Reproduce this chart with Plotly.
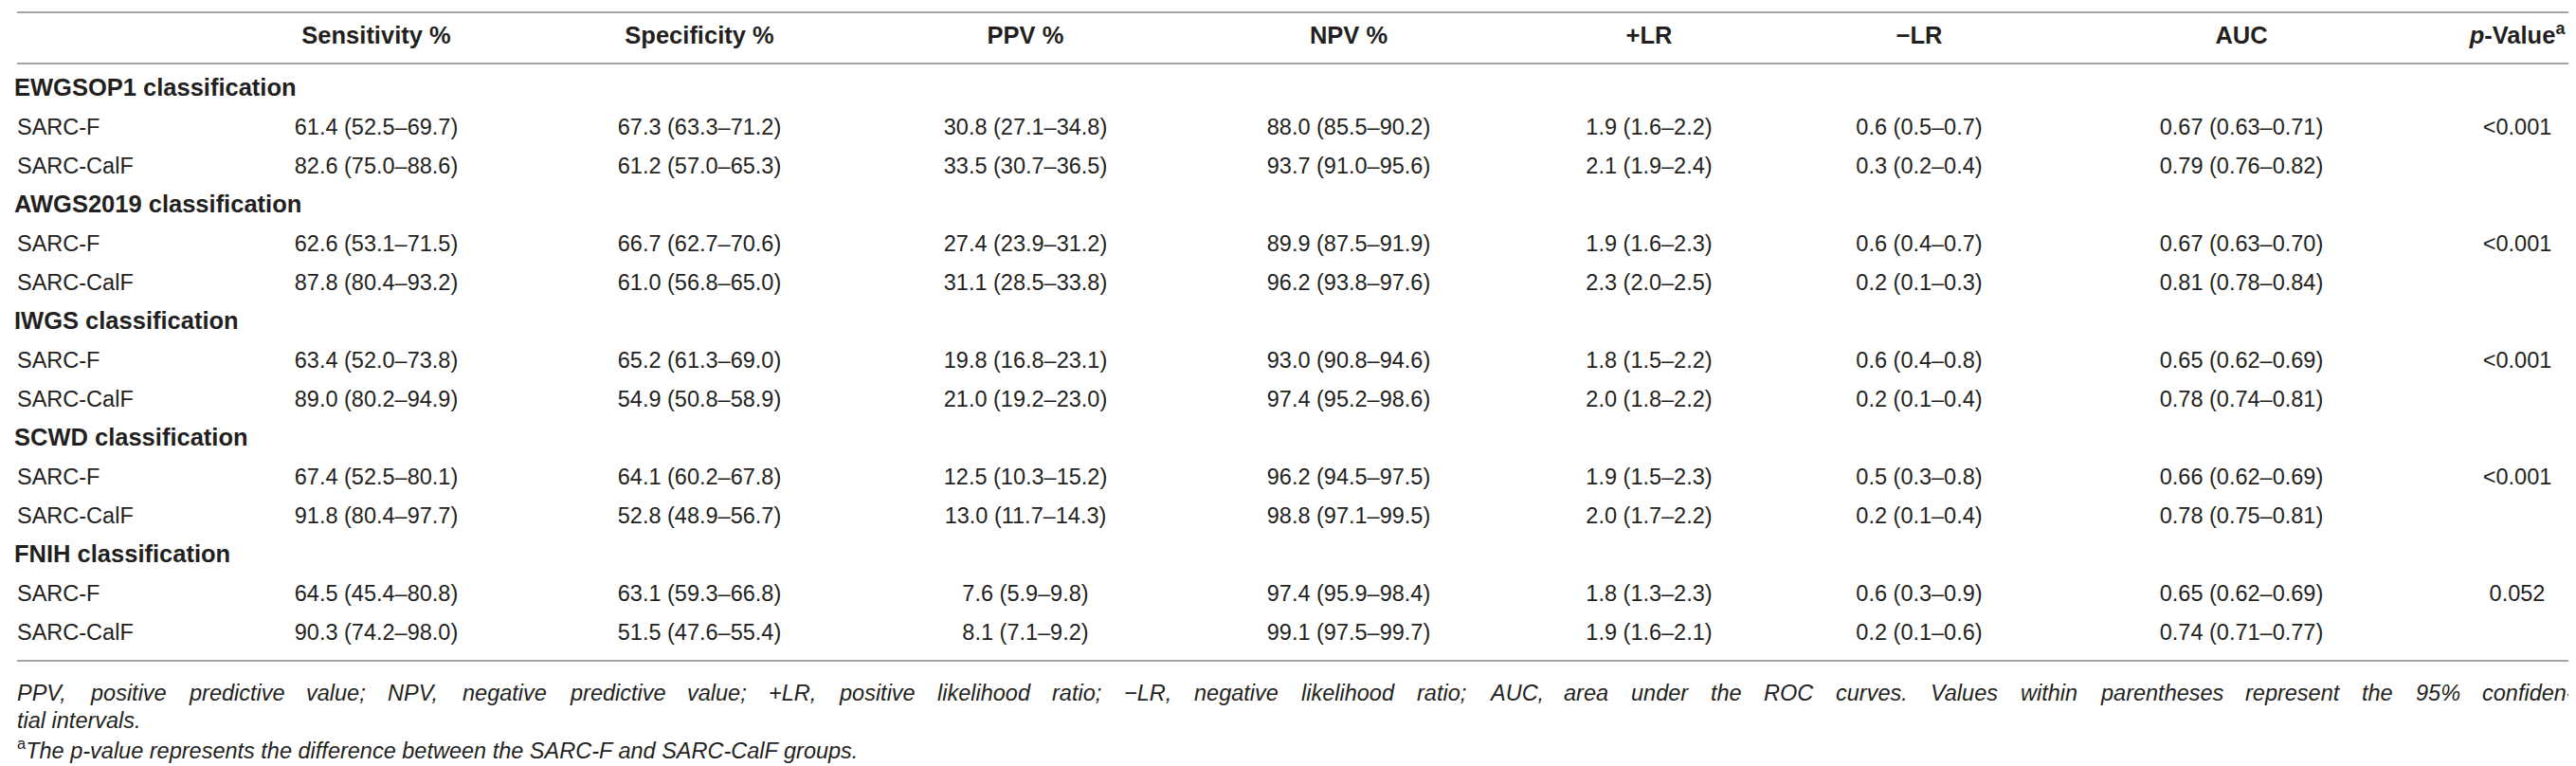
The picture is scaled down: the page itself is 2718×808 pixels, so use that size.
import plotly.graph_objects as go

# table contents
columns = ["Sensitivity %", "Specificity %", "PPV %", "NPV %", "+LR", "\u2212LR", "AUC",
           "<i>p</i>-Value<sup>a</sup>"]
groups = ["EWGSOP1 classification", "AWGS2019 classification", "IWGS classification",
          "SCWD classification", "FNIH classification"]
tools = ["SARC-F", "SARC-CalF"]

sensitivity = ["61.4 (52.5–69.7)", "82.6 (75.0–88.6)", "62.6 (53.1–71.5)", "87.8 (80.4–93.2)",
               "63.4 (52.0–73.8)", "89.0 (80.2–94.9)", "67.4 (52.5–80.1)", "91.8 (80.4–97.7)",
               "64.5 (45.4–80.8)", "90.3 (74.2–98.0)"]
specificity = ["67.3 (63.3–71.2)", "61.2 (57.0–65.3)", "66.7 (62.7–70.6)", "61.0 (56.8–65.0)",
               "65.2 (61.3–69.0)", "54.9 (50.8–58.9)", "64.1 (60.2–67.8)", "52.8 (48.9–56.7)",
               "63.1 (59.3–66.8)", "51.5 (47.6–55.4)"]
ppv = ["30.8 (27.1–34.8)", "33.5 (30.7–36.5)", "27.4 (23.9–31.2)", "31.1 (28.5–33.8)",
       "19.8 (16.8–23.1)", "21.0 (19.2–23.0)", "12.5 (10.3–15.2)", "13.0 (11.7–14.3)",
       "7.6 (5.9–9.8)", "8.1 (7.1–9.2)"]
npv = ["88.0 (85.5–90.2)", "93.7 (91.0–95.6)", "89.9 (87.5–91.9)", "96.2 (93.8–97.6)",
       "93.0 (90.8–94.6)", "97.4 (95.2–98.6)", "96.2 (94.5–97.5)", "98.8 (97.1–99.5)",
       "97.4 (95.9–98.4)", "99.1 (97.5–99.7)"]
plr = ["1.9 (1.6–2.2)", "2.1 (1.9–2.4)", "1.9 (1.6–2.3)", "2.3 (2.0–2.5)", "1.8 (1.5–2.2)",
       "2.0 (1.8–2.2)", "1.9 (1.5–2.3)", "2.0 (1.7–2.2)", "1.8 (1.3–2.3)", "1.9 (1.6–2.1)"]
nlr = ["0.6 (0.5–0.7)", "0.3 (0.2–0.4)", "0.6 (0.4–0.7)", "0.2 (0.1–0.3)", "0.6 (0.4–0.8)",
       "0.2 (0.1–0.4)", "0.5 (0.3–0.8)", "0.2 (0.1–0.4)", "0.6 (0.3–0.9)", "0.2 (0.1–0.6)"]
auc = ["0.67 (0.63–0.71)", "0.79 (0.76–0.82)", "0.67 (0.63–0.70)", "0.81 (0.78–0.84)",
       "0.65 (0.62–0.69)", "0.78 (0.74–0.81)", "0.66 (0.62–0.69)", "0.78 (0.75–0.81)",
       "0.65 (0.62–0.69)", "0.74 (0.71–0.77)"]
p_values = ["<0.001", "<0.001", "<0.001", "<0.001", "0.052"]  # one per group (SARC-F row)

footnote_line1 = ("PPV, positive predictive value; NPV, negative predictive value; +LR, positive "
                  "likelihood ratio; \u2212LR, negative likelihood ratio; AUC, area under the ROC "
                  "curves. Values within parentheses represent the 95% confiden-")
footnote_line2 = "tial intervals."
footnote_line3 = "The p-value represents the difference between the SARC-F and SARC-CalF groups."

# layout (pixels)
W, H = 2718, 808
col_x = [389, 730, 1074, 1415, 1732, 2017, 2357, 2648]
header_y = 32
row0_y, row_step = 87, 41
rule_ys = [5, 59, 689]
foot_ys = [723, 752, 782]
foot_left, foot_right = 8, 2706
txt = "#231f20"
rule_col = "#a3a3a3"
font = "Liberation Sans, Arial, sans-serif"
reg_size = 23.5
bold_size = 25.5

# Arial / Liberation Sans advance widths (1/1000 em), used to justify footnote line 1
ADV = {" ": 278, ",": 278, ".": 278, ";": 278, "+": 584, "\u2212": 584, "%": 889, "-": 333,
       "A": 667, "C": 722, "L": 556, "N": 722, "O": 778, "P": 667, "R": 722, "U": 722, "V": 667,
       "c": 500, "f": 278, "i": 222, "j": 222, "k": 500, "l": 222, "m": 833, "r": 333, "s": 500,
       "t": 278, "v": 500, "w": 722, "x": 500, "y": 500, "z": 500}


def text_width(s, size):
    return sum(ADV.get(ch, 556) for ch in s) * size / 1000.0


fig = go.Figure()

# row positions: group header, then one row per tool
group_y, tool_y, tool_name = [], [], []
k = 0
for g in groups:
    group_y.append(row0_y + row_step * k)
    k += 1
    for t in tools:
        tool_y.append(row0_y + row_step * k)
        tool_name.append(t)
        k += 1

# column headers
fig.add_trace(go.Scatter(
    x=col_x, y=[header_y] * len(columns), mode="text",
    text=[f"<b>{c}</b>" for c in columns], textposition="middle center",
    textfont=dict(family=font, size=bold_size, color=txt), hoverinfo="skip",
    cliponaxis=False
))

# group labels (bold, left)
fig.add_trace(go.Scatter(
    x=[7] * len(groups), y=group_y, mode="text",
    text=[f"<b>{g}</b>" for g in groups], textposition="middle right",
    textfont=dict(family=font, size=bold_size, color=txt), hoverinfo="skip",
    cliponaxis=False
))

# tool labels
fig.add_trace(go.Scatter(
    x=[10] * len(tool_name), y=tool_y, mode="text",
    text=tool_name, textposition="middle right",
    textfont=dict(family=font, size=reg_size, color=txt), hoverinfo="skip",
    cliponaxis=False
))

# value columns
for cx, vals in zip(col_x[:7], [sensitivity, specificity, ppv, npv, plr, nlr, auc]):
    fig.add_trace(go.Scatter(
        x=[cx] * len(vals), y=tool_y, mode="text",
        text=vals, textposition="middle center",
        textfont=dict(family=font, size=reg_size, color=txt), hoverinfo="skip",
        cliponaxis=False
    ))

# p-values on the SARC-F row of each group
fig.add_trace(go.Scatter(
    x=[col_x[7]] * len(p_values), y=tool_y[::2], mode="text",
    text=[p.replace("<", "&lt;") for p in p_values], textposition="middle center",
    textfont=dict(family=font, size=reg_size, color=txt), hoverinfo="skip",
    cliponaxis=False
))

# horizontal rules
for ry in rule_ys:
    fig.add_shape(type="line", x0=10, x1=2712, y0=ry, y1=ry, xref="x", yref="y",
                  line=dict(color=rule_col, width=2))

# footnotes: first line justified word by word across the table width
foot_font = dict(family=font, size=reg_size, color=txt)
words = footnote_line1.split(" ")
widths = [text_width(w, reg_size) for w in words]
gap = (foot_right - foot_left - sum(widths)) / (len(words) - 1)
wx = foot_left
for w, ww in zip(words, widths):
    fig.add_annotation(x=wx, y=foot_ys[0], xref="x", yref="y", text=f"<i>{w}</i>",
                       showarrow=False, xanchor="left", yanchor="middle", font=foot_font)
    wx += ww + gap
fig.add_annotation(x=foot_left, y=foot_ys[1], xref="x", yref="y",
                   text=f"<i>{footnote_line2}</i>",
                   showarrow=False, xanchor="left", yanchor="middle", font=foot_font)
fig.add_annotation(x=foot_left, y=foot_ys[2], xref="x", yref="y",
                   text=f"<sup>a</sup><i>{footnote_line3}</i>",
                   showarrow=False, xanchor="left", yanchor="middle", font=foot_font)

fig.update_layout(
    width=W, height=H,
    margin=dict(l=0, r=0, t=0, b=0),
    paper_bgcolor="white", plot_bgcolor="white",
    showlegend=False,
    xaxis=dict(range=[0, W], visible=False, fixedrange=True),
    yaxis=dict(range=[H, 0], visible=False, fixedrange=True),
)

fig.write_html("out.html")
